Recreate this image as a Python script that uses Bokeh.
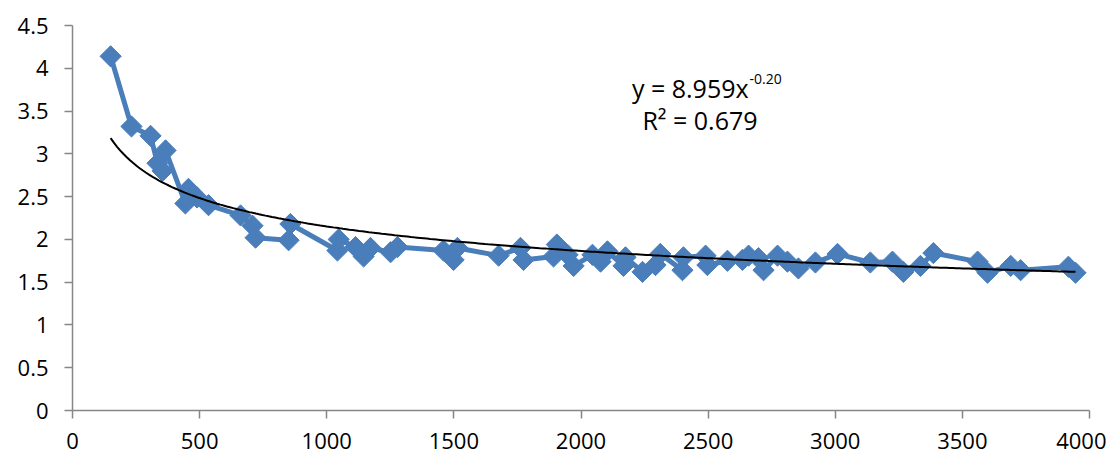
import numpy as np
from bokeh.plotting import figure
from bokeh.models import Range1d, FixedTicker, Label
from bokeh.embed import file_html
from bokeh.resources import INLINE

# measured series (x, y)
x_vals = [150, 232, 307, 334, 354, 366, 444, 456, 490, 535, 661, 708, 720, 850, 857,
          1042, 1047, 1113, 1145, 1172, 1251, 1278, 1459, 1499, 1514, 1676, 1762, 1774,
          1892, 1905, 1947, 1971, 2045, 2077, 2104, 2167, 2175, 2242, 2293, 2312, 2399,
          2403, 2490, 2497, 2576, 2635, 2659, 2698, 2718, 2773, 2812, 2855, 2922, 3009,
          3138, 3225, 3268, 3335, 3386, 3560, 3599, 3690, 3729, 3917, 3945]
y_vals = [4.14, 3.32, 3.21, 2.89, 2.80, 3.04, 2.42, 2.59, 2.49, 2.40, 2.28, 2.16, 2.02, 1.99, 2.18,
          1.87, 2.00, 1.91, 1.80, 1.90, 1.85, 1.91, 1.87, 1.76, 1.90, 1.81, 1.90, 1.76,
          1.80, 1.94, 1.82, 1.69, 1.82, 1.74, 1.86, 1.69, 1.79, 1.62, 1.70, 1.83, 1.64,
          1.79, 1.81, 1.70, 1.75, 1.76, 1.81, 1.78, 1.64, 1.81, 1.74, 1.66, 1.73, 1.83,
          1.73, 1.74, 1.62, 1.69, 1.84, 1.74, 1.61, 1.69, 1.64, 1.68, 1.61]

# power trendline y = a * x^b
trend_a = 8.959
trend_b = -0.2065
eq_text = "y = 8.959x"
eq_exp = "-0.20"
r2_text = "R² = 0.679"

x_ticks = [0, 500, 1000, 1500, 2000, 2500, 3000, 3500, 4000]
y_ticks = [0, 0.5, 1, 1.5, 2, 2.5, 3, 3.5, 4, 4.5]

FONT = "Open Sans"
AXIS_COLOR = "#868686"
BLUE = "#4A7EBB"

p = figure(width=1106, height=454, output_backend="svg", toolbar_location=None,
           x_range=Range1d(0, 4000), y_range=Range1d(0, 4.5),
           min_border_left=72, min_border_right=17, min_border_top=25, min_border_bottom=44)
p.outline_line_color = None
p.xgrid.visible = False
p.ygrid.visible = False

for ax in (p.xaxis, p.yaxis):
    ax.axis_line_color = AXIS_COLOR
    ax.major_tick_line_color = AXIS_COLOR
    ax.minor_tick_line_color = None
    ax.major_tick_in = 0
    ax.major_tick_out = 8
    ax.major_label_text_font = FONT
    ax.major_label_text_font_size = "22px"
    ax.major_label_text_color = "#000000"
    ax.axis_line_width = 1.5
    ax.major_tick_line_width = 1.5

p.xaxis.ticker = FixedTicker(ticks=x_ticks)
p.yaxis.ticker = FixedTicker(ticks=y_ticks)
p.xaxis.major_label_standoff = 14
p.yaxis.major_label_standoff = 16
p.xaxis.major_label_overrides = {t: str(t) for t in x_ticks}
p.yaxis.major_label_overrides = {t: (str(int(t)) if float(t).is_integer() else str(t)) for t in y_ticks}

# series
p.line(x_vals, y_vals, line_color=BLUE, line_width=5, line_join="round")
p.scatter(x_vals, y_vals, marker="square", size=15, angle=np.pi / 4,
          fill_color=BLUE, line_color=BLUE)

# trendline
tx = np.linspace(min(x_vals), max(x_vals), 300)
ty = trend_a * tx ** trend_b
p.line(tx, ty, line_color="black", line_width=2)

# equation labels
p.add_layout(Label(x=2659, y=3.775, text=eq_text, text_align="right", text_baseline="alphabetic",
                   text_font=FONT, text_font_size="25px", text_color="black"))
p.add_layout(Label(x=2663, y=3.87, text=eq_exp, text_align="left", text_baseline="alphabetic",
                   text_font=FONT, text_font_size="14px", text_color="black"))
p.add_layout(Label(x=2468, y=3.39, text=r2_text, text_align="center", text_baseline="alphabetic",
                   text_font=FONT, text_font_size="25px", text_color="black"))

open("out.html", "w").write(file_html(p, INLINE))
